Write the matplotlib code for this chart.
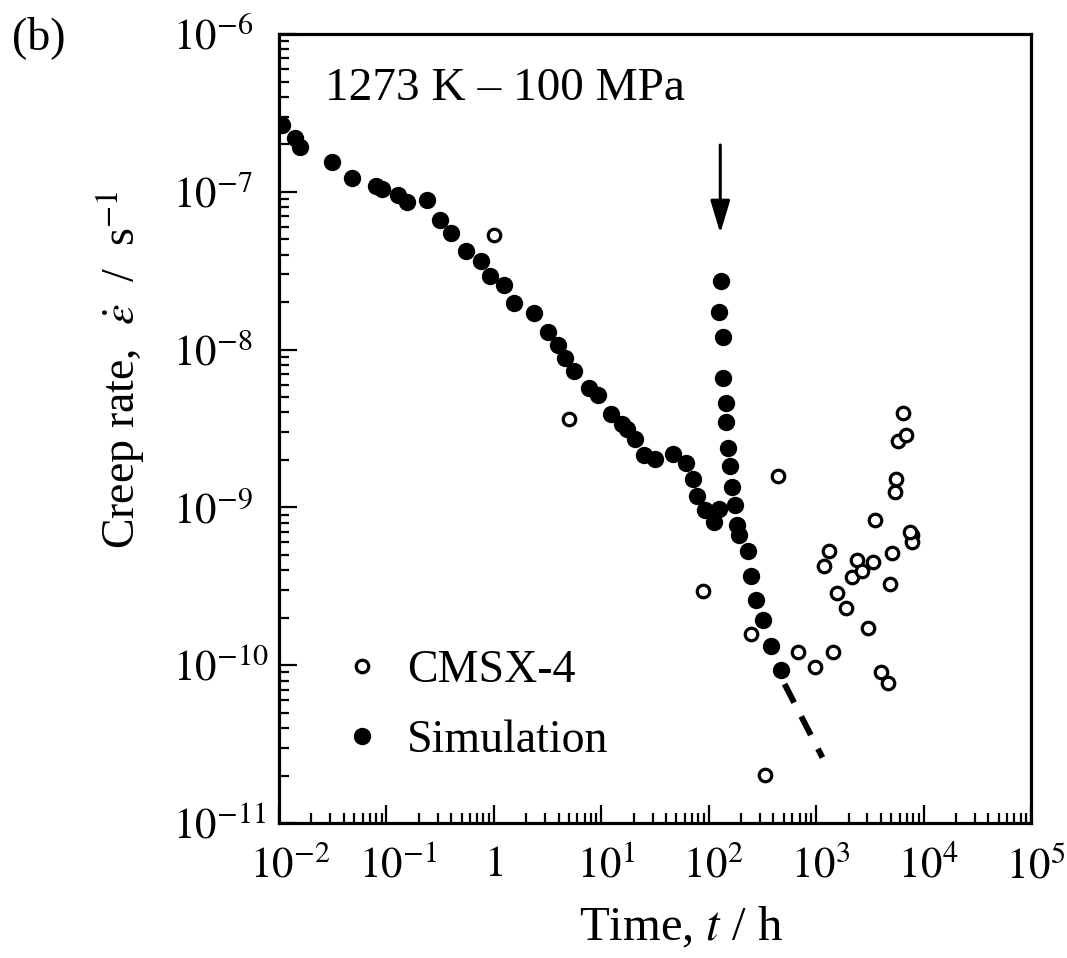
import matplotlib
matplotlib.use('Agg')
import matplotlib.pyplot as plt
from matplotlib.ticker import LogLocator, NullFormatter, FixedLocator

plt.rcParams['font.family'] = ['Liberation Serif', 'DejaVu Serif']
plt.rcParams['mathtext.fontset'] = 'stix'

# ---- data ----
sim_time = [0.0107, 0.0141, 0.0156, 0.031, 0.0477, 0.0796, 0.0918, 0.127, 0.155, 0.236,
            0.312, 0.398, 0.55, 0.759, 0.912, 1.23, 1.55, 2.38, 3.16, 3.98,
            4.6, 5.53, 7.74, 9.4, 12.4, 15.5, 17.4, 20.8, 25.2, 31.9,
            46, 61.4, 70.6, 78.2, 92.4, 111, 124, 124, 131, 136.5,
            136.5, 143.5, 143.5, 150.7, 158, 165, 174, 181.6, 189.6, 230,
            249, 277, 319, 383, 467]
sim_rate = [2.65e-7, 2.18e-7, 1.93e-7, 1.55e-7, 1.23e-7, 1.09e-7, 1.04e-7, 9.5e-8, 8.63e-8, 8.85e-8,
            6.67e-8, 5.52e-8, 4.21e-8, 3.64e-8, 2.91e-8, 2.55e-8, 1.98e-8, 1.70e-8, 1.30e-8, 1.07e-8,
            8.89e-9, 7.31e-9, 5.70e-9, 5.12e-9, 3.88e-9, 3.39e-9, 3.15e-9, 2.70e-9, 2.16e-9, 2.03e-9,
            2.18e-9, 1.92e-9, 1.52e-9, 1.18e-9, 9.7e-10, 8.04e-10, 9.8e-10, 1.73e-8, 2.71e-8, 1.21e-8,
            6.64e-9, 4.62e-9, 3.47e-9, 2.38e-9, 1.84e-9, 1.34e-9, 1.03e-9, 7.78e-10, 6.72e-10, 5.28e-10,
            3.69e-10, 2.59e-10, 1.93e-10, 1.33e-10, 9.3e-11]

exp_time = [1.01, 5.01, 88, 249, 331, 441, 677, 984, 1425, 1307,
            1175, 1577, 1911, 2174, 2400, 2673, 3382, 3041, 3508, 4055,
            4668, 4917, 5129, 5393, 5589, 5787, 6823, 6442, 7816, 7816, 7430]
exp_rate = [5.36e-8, 3.61e-9, 2.97e-10, 1.57e-10, 2.01e-11, 1.58e-9, 1.21e-10, 9.7e-11, 1.21e-10, 5.32e-10,
            4.23e-10, 2.87e-10, 2.29e-10, 3.6e-10, 4.67e-10, 3.93e-10, 4.49e-10, 1.72e-10, 8.33e-10, 9.08e-11,
            7.7e-11, 3.27e-10, 5.12e-10, 1.25e-9, 1.52e-9, 2.62e-9, 2.88e-9, 3.98e-9, 6.72e-10, 6.01e-10, 7.02e-10]

extrap_time = [508, 1143]
extrap_rate = [7.6e-11, 2.6e-11]

arrow_time = 128
arrow_from = 1.98e-7
arrow_to = 5.46e-8

xticks = [1e-2, 1e-1, 1, 1e1, 1e2, 1e3, 1e4, 1e5]
xticklabels = [r'$\hspace{0.75}10^{-2}$', r'$\hspace{0.75}10^{-1}$', r'$1$',
               r'$\hspace{0.35}10^{1}$', r'$\hspace{0.35}10^{2}$', r'$\hspace{0.35}10^{3}$',
               r'$\hspace{0.35}10^{4}$', r'$\hspace{0.35}10^{5}$']
yticks = [1e-11, 1e-10, 1e-9, 1e-8, 1e-7, 1e-6]
yticklabels = [r'$10^{-11}$', r'$10^{-10}$', r'$10^{-9}$', r'$10^{-8}$', r'$10^{-7}$', r'$10^{-6}$']

# ---- figure ----
fig = plt.figure(figsize=(10.67, 9.58), dpi=100)
ax = fig.add_axes([0.2615, 0.1409, 0.7048, 0.8236])
ax.set_xscale('log')
ax.set_yscale('log')
ax.set_xlim(1e-2, 1e5)
ax.set_ylim(1e-11, 1e-6)

ax.plot(extrap_time, extrap_rate, color='black', lw=4.3, dashes=(3.5, 2.6),
        dash_capstyle='butt', zorder=2)
ax.plot(exp_time, exp_rate, linestyle='none', marker='o', ms=9, mfc='white', mec='black', mew=2.3,
        label='CMSX-4', zorder=3)
ax.plot(sim_time, sim_rate, linestyle='none', marker='o', ms=12.5, mfc='black', mec='black', mew=0,
        label='Simulation', zorder=4)

ax.annotate('', xy=(arrow_time, arrow_to), xytext=(arrow_time, arrow_from),
            arrowprops=dict(arrowstyle='-|>,head_length=2.0,head_width=0.6', color='black', lw=2.2,
                            shrinkA=0, shrinkB=0))

# ticks
ax.xaxis.set_major_locator(FixedLocator(xticks))
ax.set_xticklabels(xticklabels)
ax.xaxis.set_minor_locator(LogLocator(base=10, subs=range(2, 10), numticks=20))
ax.xaxis.set_minor_formatter(NullFormatter())
ax.yaxis.set_major_locator(FixedLocator(yticks))
ax.set_yticklabels(yticklabels)
ax.yaxis.set_minor_locator(LogLocator(base=10, subs=range(2, 10), numticks=20))
ax.yaxis.set_minor_formatter(NullFormatter())

ax.tick_params(which='both', direction='in', top=False, right=False, width=1.6, color='black')
ax.tick_params(which='major', length=13)
ax.tick_params(which='minor', length=7)
ax.tick_params(axis='x', which='major', labelsize=31, pad=17)
ax.tick_params(axis='y', which='major', labelsize=31, pad=76)
for lab in ax.get_yticklabels():
    lab.set_horizontalalignment('left')

for sp in ax.spines.values():
    sp.set_linewidth(2.3)

ax.set_xlabel(r'Time, $t$ / h', fontsize=35)
ax.xaxis.set_label_coords(0.535, -0.105)
ax.set_ylabel(r'Creep rate,  $\dot{\varepsilon}$  /  s$^{-1}$', fontsize=33)
ax.yaxis.set_label_coords(-0.175, 0.575)

ax.text(0.061, 0.931, '1273 K – 100 MPa', transform=ax.transAxes, fontsize=34,
        ha='left', va='center')

ax.legend(loc='center left', bbox_to_anchor=(0.092, 0.149), frameon=False, fontsize=33,
          handlelength=0.6, handletextpad=0.68, labelspacing=0.6, borderpad=0, borderaxespad=0,
          numpoints=1)

fig.text(12 / 1067, 1 - 38 / 958, '(b)', fontsize=33, ha='left', va='center')

fig.savefig('out.png', dpi=100)
